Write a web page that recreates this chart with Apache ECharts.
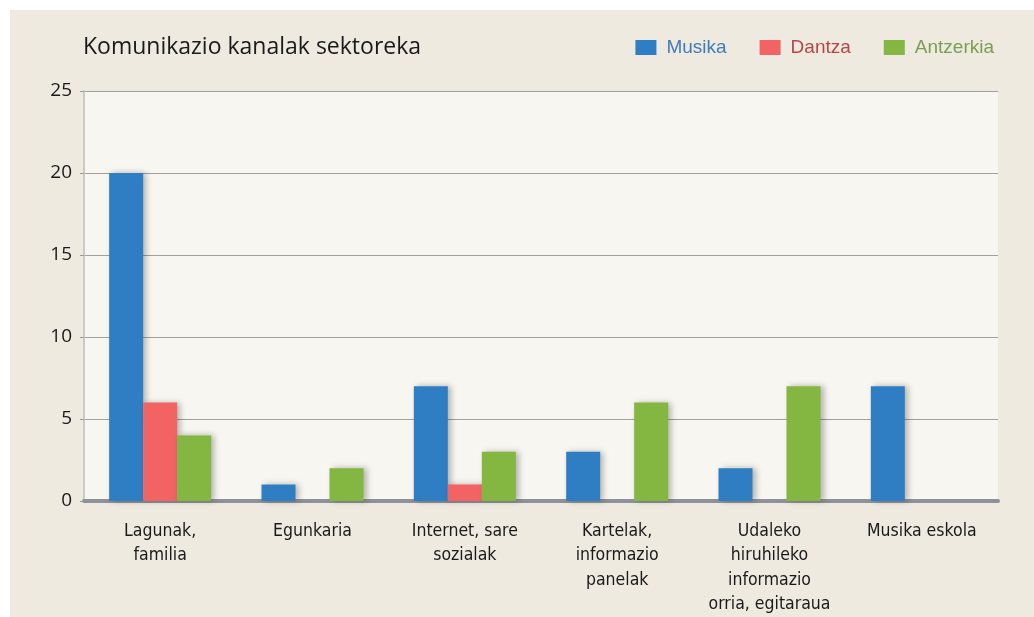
<!DOCTYPE html>
<html>
<head>
<meta charset="utf-8">
<script src="https://cdn.jsdelivr.net/npm/echarts@6/dist/echarts.min.js"></script>
<style>
  html, body { margin: 0; padding: 0; background: #ffffff; }
  #chart { position: absolute; left: 10px; top: 10px; width: 1024px; height: 607px; }
</style>
</head>
<body>
<div id="chart"></div>
<script>
  // kanalak (categories)
  const categories = [
    'Lagunak,\nfamilia',
    'Egunkaria',
    'Internet, sare\nsozialak',
    'Kartelak,\ninformazio\npanelak',
    'Udaleko\nhiruhileko\ninformazio\norria, egitaraua',
    'Musika eskola'
  ]
  const musika = [20, 1, 7, 3, 2, 7]
  const dantza = [6, 0, 1, 0, 0, 0]
  const antzerkia = [4, 2, 3, 6, 7, 0]

  const chart = echarts.init(document.getElementById('chart'))

  const barShadow = {
    shadowColor: 'rgba(0,0,0,0.28)',
    shadowBlur: 6,
    shadowOffsetX: 3,
    shadowOffsetY: 0
  }

  chart.setOption({
    backgroundColor: '#eeeae0',
    animation: false,
    title: {
      text: 'Komunikazio kanalak sektoreka',
      left: 73,
      top: 26,
      padding: 0,
      textStyle: {
        fontFamily: 'Open Sans',
        fontSize: 23,
        fontWeight: 'normal',
        color: '#1a1a1a'
      }
    },
    legend: {
      right: 40,
      top: 28,
      padding: 0,
      icon: 'rect',
      itemWidth: 21,
      itemHeight: 15,
      itemGap: 33,
      textStyle: {
        fontFamily: 'Liberation Sans',
        fontSize: 19,
        padding: [0, 0, 0, 5]
      },
      data: [
        { name: 'Musika', textStyle: { color: '#3f7cb8' } },
        { name: 'Dantza', textStyle: { color: '#b5474b' } },
        { name: 'Antzerkia', textStyle: { color: '#7c9e52' } }
      ]
    },
    grid: {
      left: 74,
      top: 81,
      width: 914,
      height: 410,
      show: true,
      backgroundColor: '#f8f6f0',
      borderWidth: 0
    },
    xAxis: {
      type: 'category',
      data: categories,
      axisLine: { lineStyle: { color: '#8e9298', width: 4 } },
      axisTick: { show: false },
      axisLabel: {
        interval: 0,
        margin: 18,
        fontFamily: 'DejaVu Sans Condensed',
        fontSize: 17.5,
        lineHeight: 24.5,
        color: '#1a1a1a'
      }
    },
    yAxis: {
      type: 'value',
      min: 0,
      max: 25,
      interval: 5,
      axisLine: { show: true, lineStyle: { color: '#c9c9c6', width: 2 } },
      axisTick: { show: true, length: 4, lineStyle: { color: '#9a9a9a' } },
      splitLine: { lineStyle: { color: '#a0a0a0', width: 1 } },
      axisLabel: {
        margin: 12,
        fontFamily: 'Open Sans',
        fontSize: 19,
        color: '#1a1a1a'
      }
    },
    series: [
      {
        name: 'Musika',
        type: 'bar',
        data: musika,
        barWidth: 34,
        barGap: '0%',
        itemStyle: Object.assign({ color: '#2f7ec4' }, barShadow)
      },
      {
        name: 'Dantza',
        type: 'bar',
        data: dantza,
        barWidth: 34,
        barGap: '0%',
        itemStyle: Object.assign({ color: '#f26363' }, barShadow)
      },
      {
        name: 'Antzerkia',
        type: 'bar',
        data: antzerkia,
        barWidth: 34,
        barGap: '0%',
        itemStyle: Object.assign({ color: '#84b741' }, barShadow)
      }
    ]
  })
</script>
</body>
</html>
